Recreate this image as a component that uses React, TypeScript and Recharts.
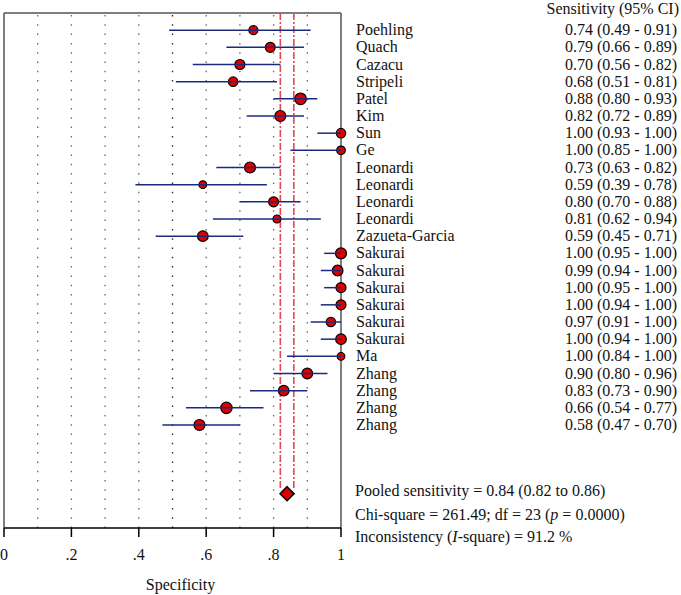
import { ScatterChart, Scatter, XAxis, YAxis, ErrorBar, ReferenceLine, Customized } from 'recharts';

const studies = [
  'Poehling', 'Quach', 'Cazacu', 'Stripeli', 'Patel', 'Kim', 'Sun', 'Ge',
  'Leonardi', 'Leonardi', 'Leonardi', 'Leonardi', 'Zazueta-Garcia',
  'Sakurai', 'Sakurai', 'Sakurai', 'Sakurai', 'Sakurai', 'Sakurai', 'Ma',
  'Zhang', 'Zhang', 'Zhang', 'Zhang',
];
const sensitivity = [0.74, 0.79, 0.70, 0.68, 0.88, 0.82, 1.00, 1.00, 0.73, 0.59, 0.80, 0.81, 0.59, 1.00, 0.99, 1.00, 1.00, 0.97, 1.00, 1.00, 0.90, 0.83, 0.66, 0.58];
const ciLow = [0.49, 0.66, 0.56, 0.51, 0.80, 0.72, 0.93, 0.85, 0.63, 0.39, 0.70, 0.62, 0.45, 0.95, 0.94, 0.95, 0.94, 0.91, 0.94, 0.84, 0.80, 0.73, 0.54, 0.47];
const ciHigh = [0.91, 0.89, 0.82, 0.81, 0.93, 0.89, 1.00, 1.00, 0.82, 0.78, 0.88, 0.94, 0.71, 1.00, 1.00, 1.00, 1.00, 1.00, 1.00, 1.00, 0.96, 0.90, 0.77, 0.70];
// relative study weights (marker area)
const weights = [6.3, 7.7, 7.7, 6.8, 10.4, 9.3, 6.8, 5.7, 9.3, 4.5, 7.7, 4.9, 8.7, 9.3, 8.7, 7.7, 7.7, 6.8, 8.7, 4.5, 8.7, 8.7, 10.0, 9.3];

const pooled = { est: 0.84, lo: 0.82, hi: 0.86 };
const xTicks = [0, 0.2, 0.4, 0.6, 0.8, 1];
const gridValues = [0.1, 0.2, 0.3, 0.4, 0.5, 0.6, 0.7, 0.8, 0.9];

const rows = studies.map((name, i) => ({
  name,
  x: sensitivity[i],
  y: i,
  lo: ciLow[i],
  hi: ciHigh[i],
  w: weights[i],
  err: [sensitivity[i] - ciLow[i], ciHigh[i] - sensitivity[i]],
}));
const pooledRow = studies.length + 3;
const pooledData = [{ x: pooled.est, y: pooledRow }];

const FONT = '"Liberation Serif", "DejaVu Serif", serif';
const RED = '#dd0000';
const NAVY = '#1b2a7c';

const fmt = (v: number) => v.toFixed(2);
const tickFmt = (v: number) => (v === 0 ? '0' : v === 1 ? '1' : String(v).replace(/^0/, ''));

const Marker = (props: any) => {
  const { cx, cy, payload } = props;
  const r = 1.8 * Math.sqrt(payload.w);
  return <circle cx={cx} cy={cy} r={r} fill={RED} stroke="#000" strokeWidth={1.2} />;
};

const Nothing = () => <g />;

const Diamond = (props: any) => {
  const { cx, cy } = props;
  const h = 7;
  return (
    <polygon
      points={`${cx},${cy - h} ${cx + h},${cy} ${cx},${cy + h} ${cx - h},${cy}`}
      fill={RED}
      stroke="#000"
      strokeWidth={1.5}
    />
  );
};

const RowTick = (props: any) => {
  const { y, payload } = props;
  const d = rows[payload.value];
  if (!d) return null;
  return (
    <g fontFamily={FONT} fontSize={16} fill="#111">
      <text x={356} y={y + 5}>{d.name}</text>
      <text x={677} y={y + 5} textAnchor="end">
        {`${fmt(d.x)} (${fmt(d.lo)} - ${fmt(d.hi)})`}
      </text>
    </g>
  );
};

const Notes = () => (
  <g fontFamily={FONT} fontSize={16} fill="#111">
    <text x={679} y={14} textAnchor="end">Sensitivity (95% CI)</text>
    <text x={355} y={496}>
      {`Pooled sensitivity = ${fmt(pooled.est)} (${fmt(pooled.lo)} to ${fmt(pooled.hi)})`}
    </text>
    <text x={355} y={520}>
      Chi-square = 261.49; df = 23 (<tspan fontStyle="italic">p</tspan> = 0.0000)
    </text>
    <text x={355} y={542}>
      Inconsistency (<tspan fontStyle="italic">I</tspan>-square) = 91.2 %
    </text>
  </g>
);

export default function App() {
  return (
    <div style={{ position: 'absolute', left: 0, top: 0, width: 681, height: 595, overflow: 'hidden', background: '#fff' }}>
      <ScatterChart width={681} height={595} margin={{ top: 13, right: 0, bottom: 0, left: 4 }}>
        <XAxis
          type="number"
          dataKey="x"
          domain={[0, 1]}
          ticks={xTicks}
          tickFormatter={tickFmt}
          height={67}
          tickSize={9}
          tickMargin={12}
          stroke="#000"
          strokeWidth={1.5}
          tick={{ fill: '#111', fontSize: 16, fontFamily: FONT }}
          label={{ value: 'Specificity', position: 'insideBottom', offset: 5, dx: 8, fill: '#111', fontSize: 16, fontFamily: FONT }}
        />
        <YAxis
          type="number"
          dataKey="y"
          orientation="right"
          domain={[-1, pooledRow + 2]}
          reversed
          ticks={rows.map((r) => r.y)}
          interval={0}
          width={340}
          axisLine={false}
          tickLine={false}
          tick={<RowTick />}
        />
        {gridValues.map((v) => (
          <ReferenceLine
            key={v}
            x={v}
            stroke={v === 0.5 ? '#222' : '#666'}
            strokeWidth={1.3}
            strokeDasharray="1.5 7.8"
          />
        ))}
        <ReferenceLine y={-1} stroke="#555" strokeWidth={1.5} />
        <ReferenceLine x={0} stroke="#555" strokeWidth={1.5} />
        <ReferenceLine x={1} stroke="#555" strokeWidth={1.5} />
        <ReferenceLine
          segment={[{ x: pooled.lo, y: -1 }, { x: pooled.lo, y: pooledRow - 0.2 }]}
          stroke="#e4484c"
          strokeWidth={1.6}
          strokeDasharray="7 2 2 2"
        />
        <ReferenceLine
          segment={[{ x: pooled.hi, y: -1 }, { x: pooled.hi, y: pooledRow - 0.2 }]}
          stroke="#e4484c"
          strokeWidth={1.6}
          strokeDasharray="7 2 2 2"
        />
        <Scatter data={rows} shape={<Marker />} isAnimationActive={false} />
        <Scatter data={rows} shape={<Nothing />} isAnimationActive={false}>
          <ErrorBar dataKey="err" direction="x" width={0} stroke={NAVY} strokeWidth={1.5} zIndex={700} />
        </Scatter>
        <Scatter data={pooledData} shape={<Diamond />} isAnimationActive={false} />
        <Customized component={<Notes />} />
      </ScatterChart>
    </div>
  );
}
